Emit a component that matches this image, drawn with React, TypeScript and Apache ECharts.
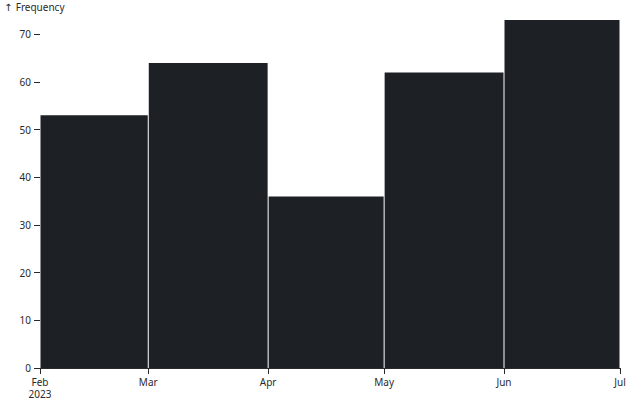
import React, { useEffect, useRef } from "react";
import * as echarts from "echarts";

const binStarts = ["2023-02-01", "2023-03-01", "2023-04-01", "2023-05-01", "2023-06-01"];
const binEnds = ["2023-03-01", "2023-04-01", "2023-05-01", "2023-06-01", "2023-07-01"];
const frequencies = [53, 64, 36, 62, 73];
const monthTicks = ["2023-02-01", "2023-03-01", "2023-04-01", "2023-05-01", "2023-06-01", "2023-07-01"];
const monthNames = ["Jan", "Feb", "Mar", "Apr", "May", "Jun", "Jul", "Aug", "Sep", "Oct", "Nov", "Dec"];

const ts = (s: string) => {
  const [y, m, d] = s.split("-").map(Number);
  return Date.UTC(y, m - 1, d);
};

const TEXT = "#2a2a2a";
const FONT = "Noto Sans";

export default function App() {
  const ref = useRef<HTMLDivElement>(null);
  useEffect(() => {
    if (!ref.current) return;
    const chart = echarts.init(ref.current, undefined, { renderer: "svg" });
    const data = binStarts.map((s, i) => [ts(s), ts(binEnds[i]), frequencies[i]]);
    const tickVals = monthTicks.map(ts);
    chart.setOption({
      animation: false,
      grid: { left: 40, right: 20, top: 20, bottom: 30, containLabel: false },
      graphic: [
        {
          type: "text",
          x: 4,
          y: 1,
          style: {
            text: "{a|↑} {b|Frequency}",
            rich: {
              a: { fill: TEXT, fontFamily: "DejaVu Sans", fontSize: 10 },
              b: { fill: TEXT, fontFamily: FONT, fontSize: 10 },
            },
          },
        },
      ],
      xAxis: {
        type: "value",
        min: tickVals[0],
        max: tickVals[tickVals.length - 1],
        splitLine: { show: false },
        axisLine: { show: true, lineStyle: { color: TEXT, width: 1 } },
        axisTick: { show: true, length: 6, lineStyle: { color: TEXT }, customValues: tickVals },
        axisLabel: {
          customValues: tickVals,
          margin: 8,
          color: TEXT,
          fontFamily: FONT,
          fontSize: 10,
          lineHeight: 12,
          hideOverlap: false,
          showMinLabel: true,
          showMaxLabel: true,
          formatter: (v: number) => {
            const d = new Date(v);
            const m = monthNames[d.getUTCMonth()];
            return v === tickVals[0] ? `${m}\n${d.getUTCFullYear()}` : m;
          },
        },
      },
      yAxis: {
        type: "value",
        min: 0,
        max: 73,
        interval: 10,
        splitLine: { show: false },
        axisLine: { show: false },
        axisTick: { show: true, length: 6, lineStyle: { color: TEXT } },
        axisLabel: { margin: 9, color: TEXT, fontFamily: FONT, fontSize: 10, showMaxLabel: false },
      },
      series: [
        {
          type: "custom",
          data,
          encode: { x: [0, 1], y: 2 },
          renderItem: (params: any, api: any) => {
            const p0 = api.coord([api.value(0), api.value(2)]);
            const p1 = api.coord([api.value(1), 0]);
            return {
              type: "rect",
              shape: { x: p0[0] + 0.5, y: p0[1], width: p1[0] - p0[0] - 1, height: p1[1] - p0[1] },
              style: { fill: "#1d2025" },
            };
          },
          z: 1,
        },
      ],
    });
    return () => chart.dispose();
  }, []);
  return <div ref={ref} style={{ width: 640, height: 400, position: "absolute", left: 0, top: 0 }} />;
}
